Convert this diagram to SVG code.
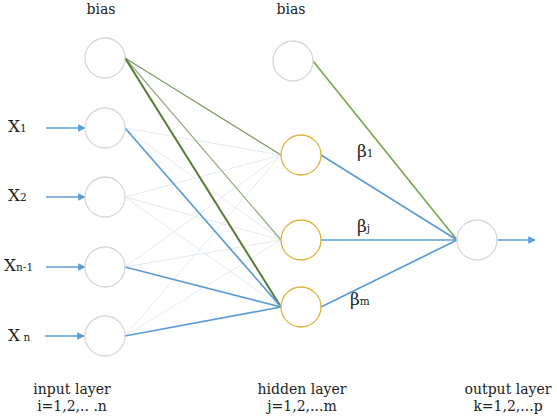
<svg xmlns="http://www.w3.org/2000/svg" width="557" height="420" viewBox="0 0 557 420" font-family="'DejaVu Serif', serif">
<defs>
<marker id="arr" viewBox="0 0 10 10" refX="9" refY="5" markerWidth="4.5" markerHeight="4.5" orient="auto" markerUnits="strokeWidth">
<path d="M0,0 L10,5 L0,10 z" fill="#5b9bd5"/>
</marker>
</defs>
<style>
.node{fill:#fff;stroke:#d6d6d6;stroke-width:1.3}
.hid{fill:#fff;stroke:#dcb43c;stroke-width:1.3}
.faint{stroke:#e3eaf3;stroke-width:1}
.blue{stroke:#5b9bd5;stroke-width:1.7;fill:none}
.g1{stroke:#7d9a62;stroke-width:1.2}
.g2{stroke:#94aa80;stroke-width:1.2}
.g3{stroke:#557c32;stroke-width:2}
.g4{stroke:#78a94e;stroke-width:1.7}
text{font-family:'DejaVu Serif',serif;fill:#222}
.lbl{font-size:14px;text-anchor:middle}
.x{font-size:17px}
.sub{font-size:10.5px}
.beta{font-size:17px}
</style>
<g id="connectors">
<g id="faint">
<line class="faint" x1="125" y1="128" x2="281" y2="155"/>
<line class="faint" x1="125" y1="128" x2="281" y2="240"/>
<line class="faint" x1="125" y1="197" x2="281" y2="155"/>
<line class="faint" x1="125" y1="197" x2="281" y2="240"/>
<line class="faint" x1="125" y1="197" x2="281" y2="307"/>
<line class="faint" x1="125" y1="267" x2="281" y2="155"/>
<line class="faint" x1="125" y1="267" x2="281" y2="240"/>
<line class="faint" x1="125" y1="336" x2="281" y2="155"/>
<line class="faint" x1="125" y1="336" x2="281" y2="240"/>
</g>
<line class="g1" x1="125" y1="58" x2="281" y2="155"/>
<line class="g2" x1="125" y1="58" x2="281" y2="240"/>
<line class="g3" x1="125" y1="58" x2="281" y2="307"/>
<line class="g4" x1="313" y1="61" x2="457" y2="240"/>
<line class="blue" x1="125" y1="128" x2="281" y2="307"/>
<line class="blue" x1="125" y1="267" x2="281" y2="307"/>
<line class="blue" x1="125" y1="336" x2="281" y2="307"/>
<line class="blue" x1="321" y1="155" x2="457" y2="240"/>
<line class="blue" x1="321" y1="240" x2="457" y2="240"/>
<line class="blue" x1="321" y1="307" x2="457" y2="240"/>
<line class="blue" x1="46" y1="128" x2="85" y2="128" marker-end="url(#arr)"/>
<line class="blue" x1="46" y1="197" x2="85" y2="197" marker-end="url(#arr)"/>
<line class="blue" x1="46" y1="267" x2="85" y2="267" marker-end="url(#arr)"/>
<line class="blue" x1="45" y1="336" x2="84" y2="336" marker-end="url(#arr)"/>
<line class="blue" x1="497" y1="240" x2="535" y2="240" marker-end="url(#arr)"/>
</g>
<g id="bias-in"><circle class="node" cx="105" cy="58" r="20"/><text class="lbl" x="101" y="14">bias</text></g>
<g id="x1"><circle class="node" cx="105" cy="128" r="20"/><text class="x" x="8" y="132">X<tspan class="sub">1</tspan></text></g>
<g id="x2"><circle class="node" cx="105" cy="197" r="20"/><text class="x" x="8" y="201">X<tspan class="sub">2</tspan></text></g>
<g id="xn1"><circle class="node" cx="105" cy="267" r="20"/><text class="x" x="4" y="271">X<tspan class="sub">n-1</tspan></text></g>
<g id="xn"><circle class="node" cx="105" cy="336" r="20"/><text class="x" x="8" y="341">X<tspan class="sub"> n</tspan></text></g>
<g id="bias-hid"><circle class="node" cx="293" cy="61" r="20"/><text class="lbl" x="291" y="14">bias</text></g>
<g id="h1"><circle class="hid" cx="301" cy="155" r="20"/><text class="beta" x="357" y="157">β<tspan class="sub">1</tspan></text></g>
<g id="hj"><circle class="hid" cx="301" cy="240" r="20"/><text class="beta" x="357" y="232">β<tspan class="sub">j</tspan></text></g>
<g id="hm"><circle class="hid" cx="301" cy="307" r="20"/><text class="beta" x="350" y="305">β<tspan class="sub">m</tspan></text></g>
<g id="out"><circle class="node" cx="477" cy="240" r="20"/></g>
<g id="labels">
<text class="lbl" x="72" y="394">input layer</text>
<text class="lbl" x="72" y="411">i=1,2,.. .n</text>
<text class="lbl" x="302" y="394">hidden layer</text>
<text class="lbl" x="302" y="411">j=1,2,...m</text>
<text class="lbl" x="508" y="394">output layer</text>
<text class="lbl" x="508" y="411">k=1,2,...p</text>
</g>
</svg>
